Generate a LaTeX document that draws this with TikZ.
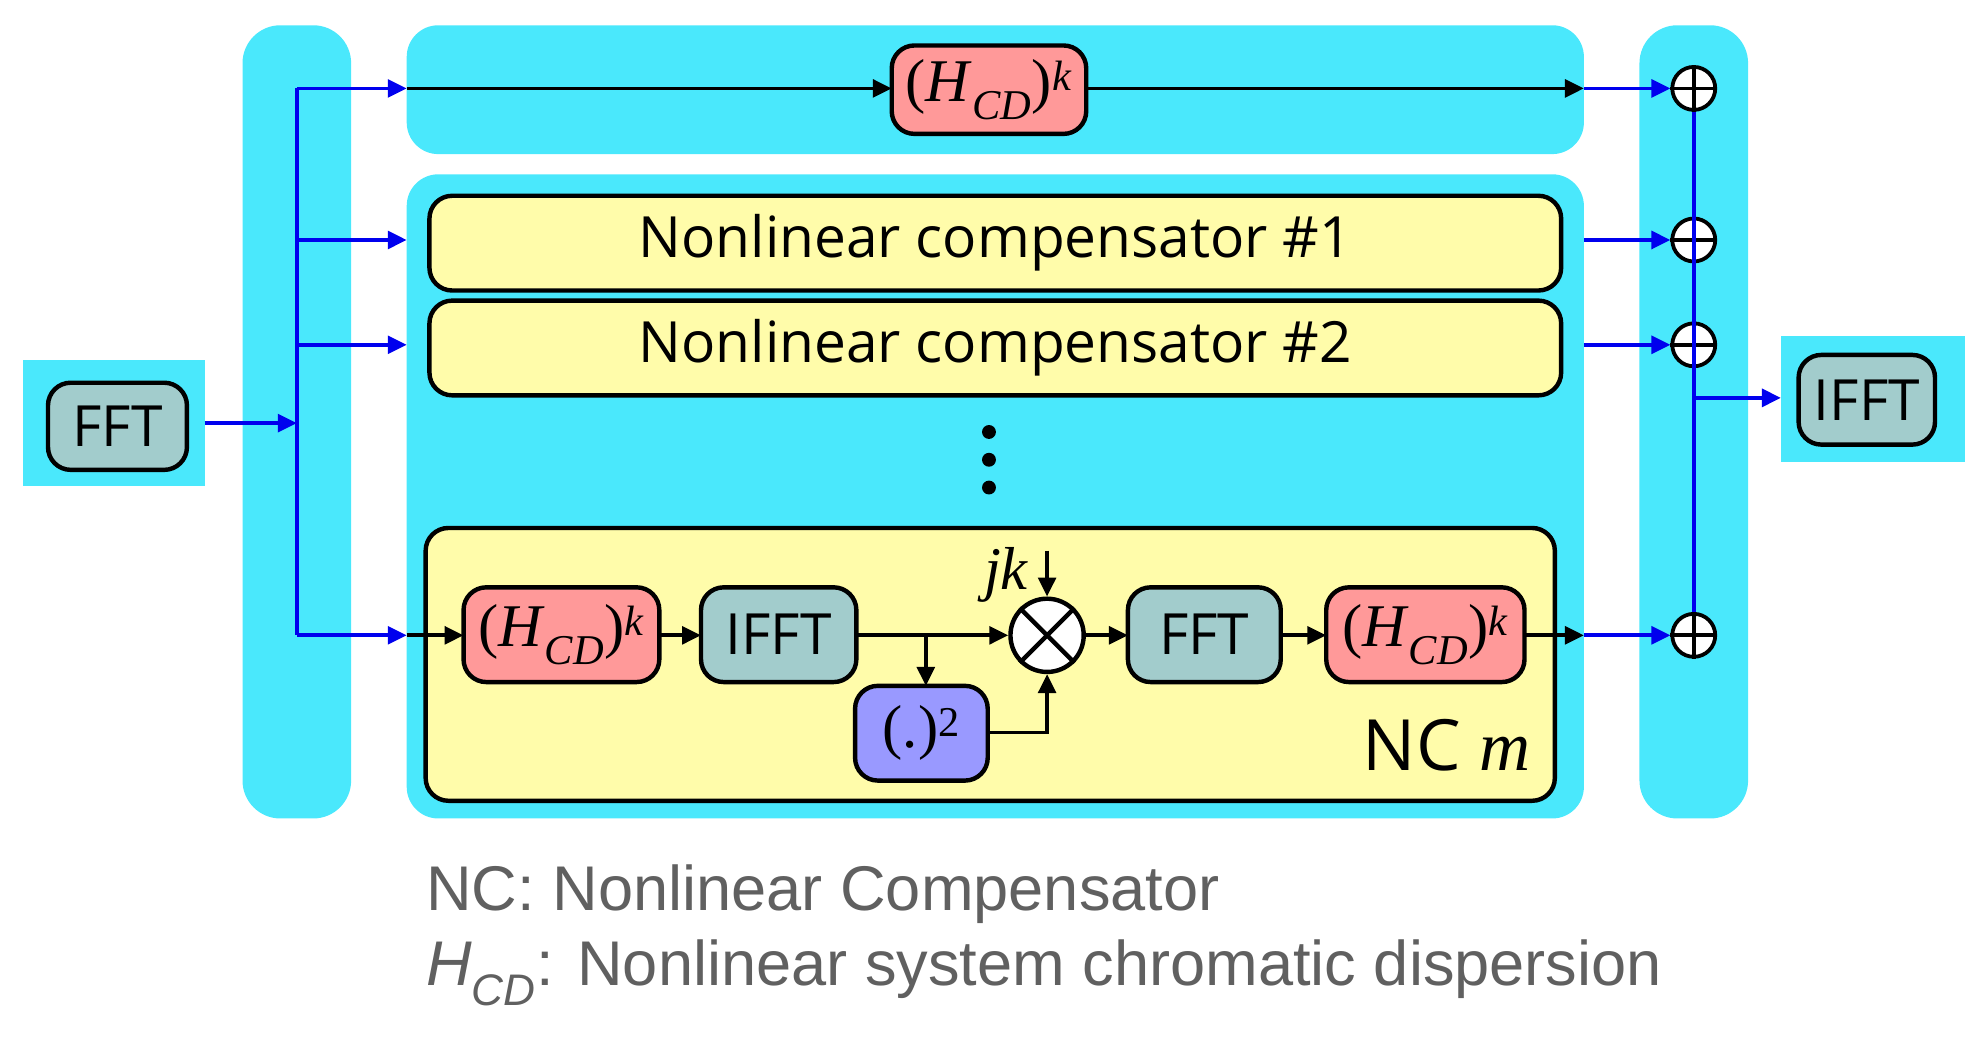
\documentclass[tikz,border=0pt]{standalone}
\usepackage{fontspec}
\setmainfont{Liberation Serif}
\newfontfamily\myosf{Open Sans}
\newfontfamily\mylsf{Liberation Sans}
\usetikzlibrary{arrows.meta}
\definecolor{cy}{HTML}{4AE8FC}
\definecolor{tl}{HTML}{A2CCCC}
\definecolor{rd}{HTML}{FF9999}
\definecolor{yl}{HTML}{FFFCAA}
\definecolor{pu}{HTML}{9999FF}
\definecolor{bl}{HTML}{0000EE}
\definecolor{gr}{HTML}{606060}
\newcommand{\myhcd}{(\textit{H}\textsubscript{\textit{CD}})\textsuperscript{\textit{k}}}
\begin{document}
\begin{tikzpicture}[x=1pt,y=-1pt,
 bg/.style={fill=cy,draw=none},
 blk/.style={draw=black,line width=3.5pt,rounded corners=18pt},
 tx/.style={font=\myosf\fontsize{45}{45}\selectfont},
 hcd/.style={font=\fontsize{48}{48}\selectfont},
 ba/.style={bl,line width=3pt,-{Triangle[length=15pt,width=14pt]}},
 bn/.style={bl,line width=3pt},
 ka/.style={black,line width=3pt,-{Triangle[length=15pt,width=14pt]}},
 kn/.style={black,line width=3pt}]
\useasboundingbox (0,0) rectangle (1570,822);
% backgrounds
\fill[bg] (18,285) rectangle (162,385);
\fill[bg,rounded corners=30pt] (192,20) rectangle (278,648);
\fill[bg,rounded corners=25pt] (322,20) rectangle (1254,122);
\fill[bg,rounded corners=25pt] (322,138) rectangle (1254,648);
\fill[bg,rounded corners=30pt] (1298,20) rectangle (1384,648);
\fill[bg] (1410,266) rectangle (1556,366);
% nodes
\path[blk,fill=tl] (38,303) rectangle (148,372); \node[tx] (fft) at (93,337.5) {FFT};
\coordinate (fftr) at (162,335);
\path[blk,fill=tl] (1424,281) rectangle (1532,352); \node[tx] (ifft) at (1478,316.5) {IFFT};
\coordinate (ifftl) at (1410,315);
\path[blk,fill=rd] (706,36) rectangle (860,106); \node[hcd] (h0) at (783,71) {\myhcd};
\path[blk,fill=yl] (340,155) rectangle (1236,230); \node[tx] (nc1) at (788,192) {Nonlinear compensator \#1};
\path[blk,fill=yl] (340,238) rectangle (1236,313); \node[tx] (nc2) at (788,275) {Nonlinear compensator \#2};
\foreach \y in {342,364,386} \fill (783,\y) circle (5.5pt);
\path[blk,fill=yl] (337,418) rectangle (1231,634);
\path[blk,fill=rd] (367,465) rectangle (522,540); \node[hcd] (h1) at (444.5,502.5) {\myhcd};
\path[blk,fill=tl] (555,465) rectangle (678,540); \node[tx] (i1) at (616.5,502.5) {IFFT};
\path[blk,fill=tl] (893,465) rectangle (1014,540); \node[tx] (f1) at (953.5,502.5) {FFT};
\path[blk,fill=rd] (1050,465) rectangle (1207,540); \node[hcd] (h2) at (1128.5,502.5) {\myhcd};
\path[blk,fill=pu] (677,543) rectangle (782,618); \node[hcd] (sq) at (729.5,580.5) {(.)\textsuperscript{2}};
\node[draw,line width=3.5pt,fill=white,circle,minimum size=58pt,inner sep=0] (mul) at (829,503) {};
\draw[line width=3.5pt] (mul.north west)--(mul.south east) (mul.north east)--(mul.south west);
\node[hcd,anchor=east] (jk) at (818,455) {\textit{jk}};
\node[font=\myosf\fontsize{56}{56}\selectfont,anchor=south east] (ncm) at (1215,614) {NC \textit{\fontspec{Liberation Serif}m}};
\coordinate (jkt) at (829,436);
% oplus
\foreach \n/\y in {o0/70,o1/190,o2/273,om/503}{
 \node[draw,line width=3pt,fill=white,circle,minimum size=34pt,inner sep=0] (\n) at (1341,\y) {};
 \draw[line width=3pt] (\n.north)--(\n.south) (\n.west)--(\n.east);}
% blue lines
\coordinate (sp) at (235,335);
\draw[ba] (fftr) -- (sp);
\draw[bn] (235,70) -- (235,503);
\foreach \y in {70,190,273,503} \draw[ba] (235,\y) -- (322,\y);
\draw[bn] (o0) -- (om);
\draw[ba] (1341,315) -- (ifftl);
\draw[ba] (1254,70) -- (o0);
\draw[ba] (1254,190) -- (o1);
\draw[ba] (1254,273) -- (o2);
\draw[ba] (1254,503) -- (om);
% black lines
\draw[ka] (322,70) -- (706,70);
\draw[ka] (860,70) -- (1254,70);
\draw[ka] (322,503) -- (367,503);
\draw[ka] (522,503) -- (555,503);
\draw[ka] (678,503) -- (mul);
\draw[ka] (733,503) -- (733,543);
\draw[ka] (782,580) -| (mul);
\draw[ka] (jkt) -- (mul);
\draw[ka] (mul) -- (893,503);
\draw[ka] (1014,503) -- (1050,503);
\draw[ka] (1207,503) -- (1254,503);
% legend
\node[gr,anchor=west,font=\mylsf\fontsize{50}{50}\selectfont] (l1) at (334,708) {NC: Nonlinear Compensator};
\node[gr,anchor=west,font=\mylsf\fontsize{50}{50}\selectfont] (l2) at (334,770) {\textit{H}\textsubscript{\textit{CD}}: Nonlinear system chromatic dispersion};
\end{tikzpicture}
\end{document}
